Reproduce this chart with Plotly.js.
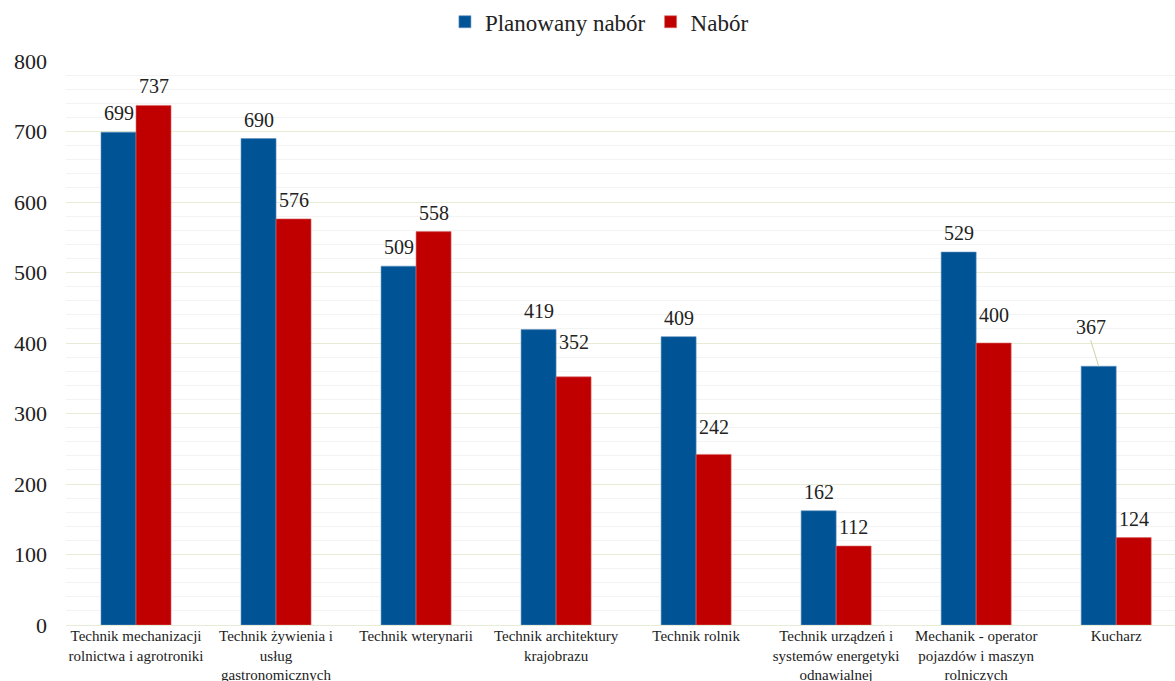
<!DOCTYPE html>
<html>
<head>
<meta charset="utf-8">
<script src="https://cdn.plot.ly/plotly-3.0.1.min.js"></script>
<style>
  html, body { margin: 0; padding: 0; background: #fff; }
  #chart { width: 1175px; height: 681px; }
</style>
</head>
<body>
<div id="chart"></div>
<script>
// Kierunki kształcenia (etykiety osi X, z łamaniem wierszy)
const categories = [
  "Technik mechanizacji<br>rolnictwa i agrotroniki",
  "Technik żywienia i<br>usług<br>gastronomicznych",
  "Technik wterynarii",
  "Technik architektury<br>krajobrazu",
  "Technik rolnik",
  "Technik urządzeń i<br>systemów energetyki<br>odnawialnej",
  "Mechanik - operator<br>pojazdów i maszyn<br>rolniczych",
  "Kucharz"
];
const planned = [699, 690, 509, 419, 409, 162, 529, 367];
const actual  = [737, 576, 558, 352, 242, 112, 400, 124];
const seriesNames = ["Planowany nabór", "Nabór"];

const FONT = "Georgia, 'Liberation Serif', 'DejaVu Serif', serif";
const BLUE = "#005496";
const RED = "#c00000";

const idx = categories.map((_, i) => i);

const traces = [
  {
    type: "bar", name: seriesNames[0], x: idx, y: planned,
    marker: { color: BLUE, line: { color: "#5f8fbf", width: 0.6 } },
    hoverinfo: "y"
  },
  {
    type: "bar", name: seriesNames[1], x: idx, y: actual,
    marker: { color: RED, line: { color: "#d86a6a", width: 0.6 } },
    hoverinfo: "y"
  }
];

// Etykiety wartości nad słupkami
const BAR_OFFSET = 17.5;   // połowa szerokości słupka w px
const baseLift = 19;
// dodatkowe przesunięcia niektórych etykiet (seria-indeks) -> [dx, dy]
const nudges = { "1-3": [0, 16], "1-4": [0, 8], "1-6": [0, 9] };

const annotations = [];
[planned, actual].forEach((vals, s) => {
  vals.forEach((v, i) => {
    const n = nudges[s + "-" + i] || [0, 0];
    const dx = (s === 0 ? -BAR_OFFSET : BAR_OFFSET);
    const a = {
      x: i, y: v, xref: "x", yref: "y",
      text: String(v), showarrow: false,
      xshift: dx + n[0], yshift: baseLift + n[1],
      font: { family: FONT, size: 20, color: "#222" }
    };
    if (s === 0 && i === 7) {
      // etykieta odsunięta z linią odniesienia
      Object.assign(a, {
        showarrow: true, arrowhead: 0, arrowwidth: 1, arrowcolor: "#c6d6a4",
        ax: -8, ay: -26, xshift: dx, yshift: 0, standoff: 0,
        yanchor: "bottom"
      });
    }
    annotations.push(a);
  });
});

const layout = {
  width: 1175, height: 681,
  margin: { l: 66, r: 0, t: 61, b: 56 },
  paper_bgcolor: "#fff", plot_bgcolor: "#fff",
  font: { family: FONT, color: "#222" },
  barmode: "group", bargap: 0.5, bargroupgap: 0,
  showlegend: true,
  legend: {
    orientation: "h", x: 0.481, xanchor: "center", xref: "paper",
    yref: "container", y: 0.968, yanchor: "middle",
    font: { family: FONT, size: 23, color: "#222" },
    itemwidth: 30
  },
  xaxis: {
    range: [-0.5, 7.42], tickmode: "array", tickvals: idx, ticktext: categories,
    showgrid: false, zeroline: false, showline: false, ticks: "",
    tickfont: { family: FONT, size: 15, color: "#222" },
    automargin: false,
    fixedrange: true
  },
  yaxis: {
    range: [0, 800], dtick: 100, tick0: 0,
    showgrid: true, gridcolor: "#e6ecd6", gridwidth: 1,
    minor: { dtick: 20, showgrid: true, gridcolor: "#f3f3f3", gridwidth: 1 },
    zeroline: true, zerolinecolor: "#e6ecd6", zerolinewidth: 1,
    showline: false, ticks: "",
    tickfont: { family: FONT, size: 22, color: "#222" },
    ticklabelstandoff: 18,
    automargin: false,
    fixedrange: true
  },
  annotations: annotations
};

Plotly.newPlot("chart", traces, layout, { displayModeBar: false, staticPlot: true });
</script>
</body>
</html>
